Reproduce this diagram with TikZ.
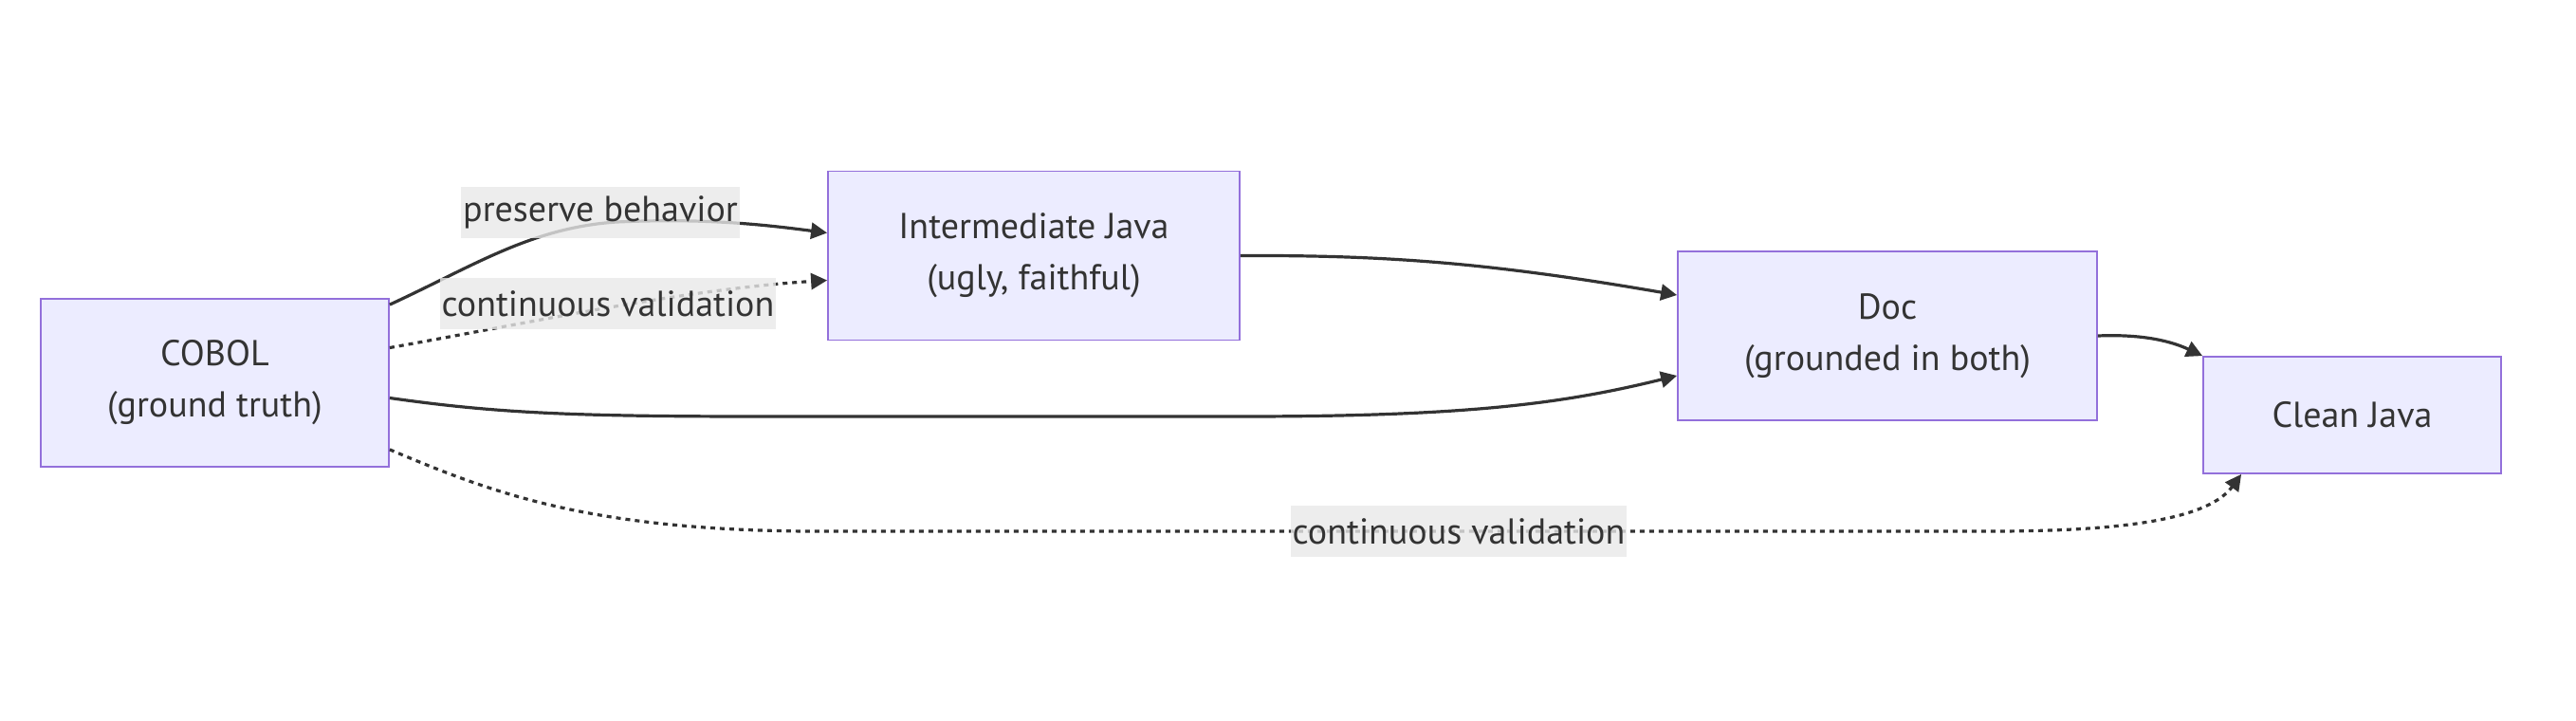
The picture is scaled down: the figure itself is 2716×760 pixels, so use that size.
\documentclass[tikz,border=0pt]{standalone}
\usepackage{fontspec}
\setmainfont{PT Sans}
\usetikzlibrary{
		calc,
		positioning,
		arrows.meta
	}
\definecolor{boxfill}{HTML}{ECECFF}
\definecolor{boxline}{HTML}{9370DB}
\definecolor{inkline}{HTML}{333333}
\definecolor{lblfill}{HTML}{E8E8E8}
\tikzset{
		>={Triangle[length=8.5pt,width=8.5pt]}
	}
\tikzset{stage/.style={draw=boxline, fill=boxfill, line width=0.9pt, text=inkline, align=center, font=\fontsize{19}{27}\selectfont}}
\tikzset{flow/.style={->, draw=inkline, line width=1.6pt}}
\tikzset{check/.style={flow, dash pattern=on 2.5pt off 2.5pt}}
\tikzset{lbl/.style={fill=lblfill, fill opacity=0.8, text opacity=1, text=inkline, inner xsep=1pt, inner ysep=0pt, minimum height=27pt, font=\fontsize{19}{27}\selectfont}}

\begin{document}
\begin{tikzpicture}[x=0.5pt, y=-0.5pt] % (each unit = one pixel of the 2716 x 760 frame, y runs down)
		\useasboundingbox (0,0) rectangle (2716,760);
		% the four stages
		\node[stage, minimum width=183.5pt, minimum height=88.5pt] (cobol) at (226.5,403.5) {COBOL\\(ground truth)};
		\node[stage, minimum width=217pt, minimum height=89pt] (ijava) at (1090,269.5) {Intermediate Java\\(ugly, faithful)};
		\node[stage, minimum width=221pt, minimum height=89pt] (doc) at (1990,354) {Doc\\(grounded in both)};
		\node[stage, minimum width=157pt, minimum height=61.5pt] (cjava) at (2480,437.5) {Clean Java};
		% the flows between them
		\draw[flow] ($(cobol.north east)+(0,7)$) .. controls (500,280) and (560,240) .. (650,234) .. controls (740,230) and (800,236) .. ($(ijava.west)+(0,-24)$)
		  node[lbl] (lblkeep) at (633,224) {preserve behavior};
		\draw[check] ($(cobol.east)+(0,-37)$) .. controls (560,340) and (720,305) .. ($(ijava.west)+(0,26)$)
		  node[lbl] (lblcheckA) at (641,320) {continuous validation};
		\draw[flow] (ijava.east) .. controls (1450,269) and (1560,275) .. ($(doc.west)+(0,-43)$);
		\draw[flow] ($(cobol.east)+(0,16)$) .. controls (520,435) and (600,439) .. (800,439) -- (1310,439) .. controls (1550,439) and (1650,425) .. ($(doc.west)+(0,42)$);
		\draw[flow] (doc.east) .. controls (2260,352) and (2290,360) .. (cjava.north west);
		\draw[check] ($(cobol.south east)+(0,-19)$) .. controls (520,520) and (620,558) .. (850,560) -- (2100,560) .. controls (2250,560) and (2330,545) .. ($(cjava.south west)+(41,0)$)
		  node[lbl] (lblcheckB) at (1538,560) {continuous validation};
	\end{tikzpicture}
\end{document}
